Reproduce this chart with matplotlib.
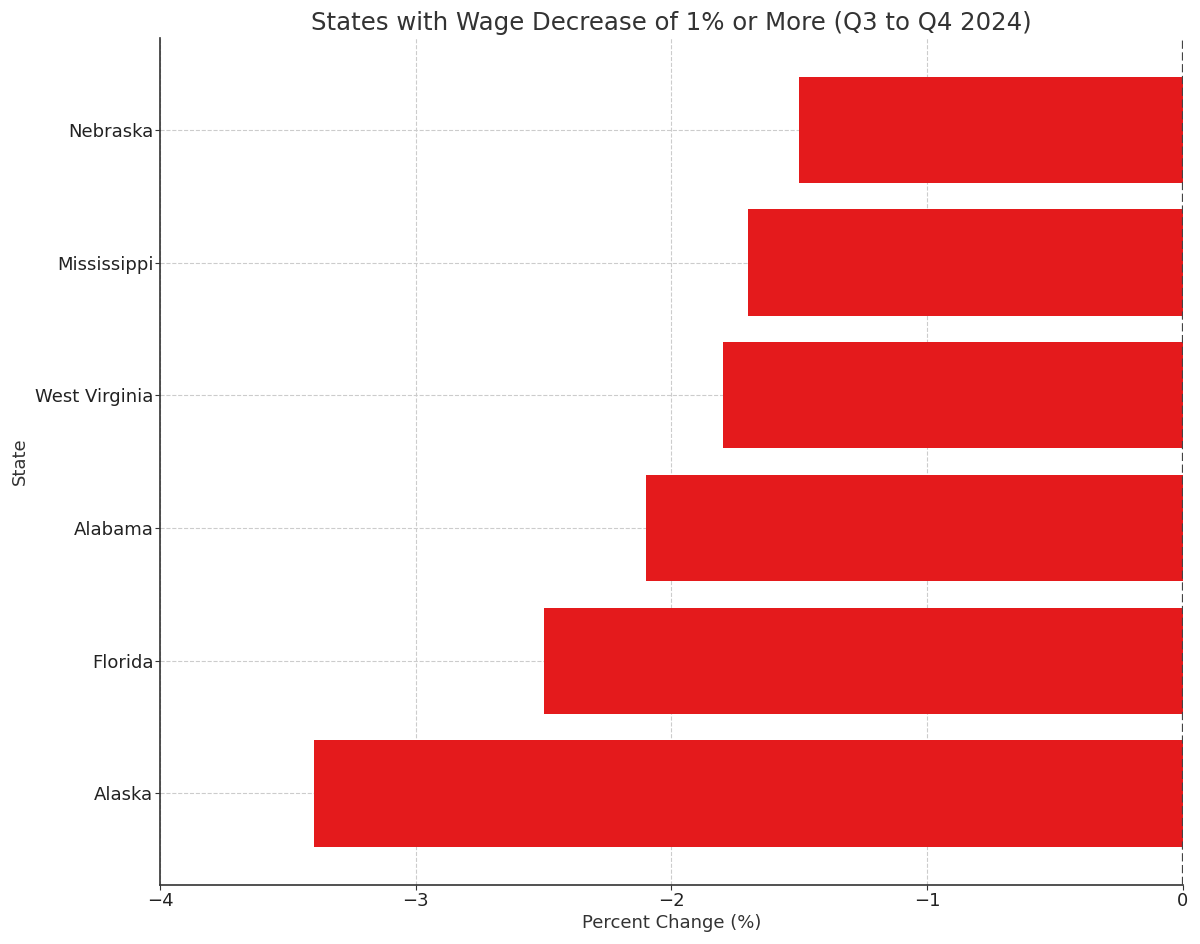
import matplotlib

matplotlib.use("Agg")
import matplotlib.pyplot as plt  # noqa: E402

states = ["Alaska", "Florida", "Alabama", "West Virginia", "Mississippi", "Nebraska"]
pct_change = [-3.4, -2.5, -2.1, -1.8, -1.7, -1.5]

TXT = "#333333"

fig = plt.figure(figsize=(12, 9.44), dpi=100)
ax = fig.add_axes([0.1335, 0.0625, 0.852, 0.897])

ax.barh(states, pct_change, height=0.8, color="#e41a1c", zorder=2)
ax.axvline(0, color="#444444", linestyle="--", linewidth=1.6, zorder=3)

ax.set_xlim(-4, 0)
ax.set_xticks([-4, -3, -2, -1, 0])
ax.grid(True, linestyle="--", color="#cccccc", linewidth=0.8, zorder=0)
ax.set_axisbelow(True)

ax.set_title("States with Wage Decrease of 1% or More (Q3 to Q4 2024)",
             fontsize=17.6, color=TXT, pad=6)
ax.set_xlabel("Percent Change (%)", fontsize=13, color=TXT, labelpad=3)
ax.set_ylabel("State", fontsize=13, color=TXT)
ax.tick_params(labelsize=13, colors=TXT, pad=1.5)
for lbl in ax.get_xticklabels() + ax.get_yticklabels():
    lbl.set_color("#222222")

ax.spines["top"].set_visible(False)
ax.spines["right"].set_visible(False)
ax.spines["left"].set_color("#333333")
ax.spines["bottom"].set_color("#333333")
ax.spines["left"].set_linewidth(1.2)
ax.spines["bottom"].set_linewidth(1.2)

fig.savefig("out.png", dpi=100)
